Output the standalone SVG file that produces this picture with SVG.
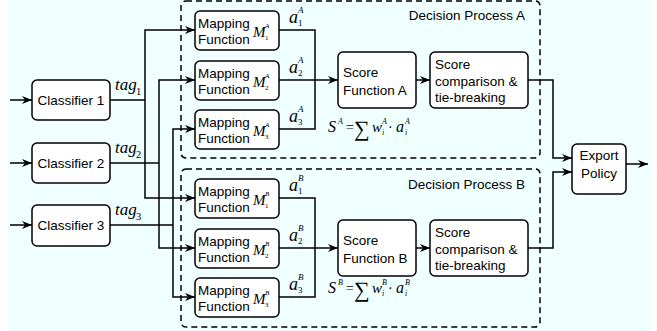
<svg xmlns="http://www.w3.org/2000/svg" width="657" height="331" viewBox="0 0 657 331">
<defs>
<marker id="arr" markerUnits="userSpaceOnUse" markerWidth="10" markerHeight="8" viewBox="0 0 10 8" refX="10" refY="4" orient="auto">
<path d="M0,0 L10,4 L0,8 L3,4 z" fill="#000"/>
</marker>
<style>
.box{fill:#fff;stroke:#000;stroke-width:1.5}
.dash{fill:none;stroke:#000;stroke-width:1.5;stroke-dasharray:6,4}
.ln{fill:none;stroke:#000;stroke-width:1.5}
.ar{fill:none;stroke:#000;stroke-width:1.5;marker-end:url(#arr)}
.t{font-family:"Liberation Sans",Arial,sans-serif;font-size:13.5px;fill:#000}
.c{text-anchor:middle}
.m{font-family:"Liberation Serif","Times New Roman",serif;font-style:italic;fill:#000}
.mr{font-family:"Liberation Serif","Times New Roman",serif;fill:#000}
</style>
</defs>
<rect x="8" y="0" width="644" height="331" fill="#f0ffff"/>

<g id="decisionA">
<rect class="dash" x="181" y="1" width="359" height="157" rx="5"/>
<text class="t" x="525" y="20" text-anchor="end">Decision Process A</text>
</g>
<g id="decisionB">
<rect class="dash" x="181" y="169" width="359" height="158" rx="5"/>
<text class="t" x="525" y="189" text-anchor="end">Decision Process B</text>
</g>

<g id="connectors">
<path class="ar" d="M10,100 H32"/>
<path class="ar" d="M10,163 H32"/>
<path class="ar" d="M10,225 H32"/>
<path class="ln" d="M110,100 H145"/>
<path class="ar" d="M145,100 V30 H195"/>
<path class="ar" d="M145,100 V198 H195"/>
<path class="ln" d="M110,163 H159"/>
<path class="ar" d="M159,163 V80 H195"/>
<path class="ar" d="M159,163 V248 H195"/>
<path class="ln" d="M110,225 H173"/>
<path class="ar" d="M173,225 V129 H195"/>
<path class="ar" d="M173,225 V297 H195"/>
<path class="ln" d="M279,30 H315 V129 H279"/>
<path class="ar" d="M279,80 H338"/>
<path class="ln" d="M279,198 H315 V297 H279"/>
<path class="ar" d="M279,248 H338"/>
<path class="ar" d="M416,80 H430"/>
<path class="ar" d="M416,248 H430"/>
<path class="ar" d="M528,80 H553 V158 H572"/>
<path class="ar" d="M528,248 H553 V172 H572"/>
<path class="ar" d="M626,164 H648"/>
</g>

<g id="classifier1">
<rect class="box" x="32" y="80" width="78" height="40" rx="5"/>
<text class="t c" x="71" y="105">Classifier 1</text>
</g>
<g id="classifier2">
<rect class="box" x="32" y="143" width="78" height="40" rx="5"/>
<text class="t c" x="71" y="168">Classifier 2</text>
</g>
<g id="classifier3">
<rect class="box" x="32" y="205" width="78" height="41" rx="5"/>
<text class="t c" x="71" y="230">Classifier 3</text>
</g>

<g id="tags">
<text class="m" x="115" y="90" font-size="17">tag</text><text class="mr" x="136" y="95" font-size="10.5">1</text>
<text class="m" x="115" y="153" font-size="17">tag</text><text class="mr" x="136" y="158" font-size="10.5">2</text>
<text class="m" x="115" y="215" font-size="17">tag</text><text class="mr" x="136" y="220" font-size="10.5">3</text>
</g>

<g id="mapA1">
<rect class="box" x="195" y="11" width="84" height="39" rx="5"/>
<text class="t" x="198" y="28">Mapping</text><text class="t" x="198" y="44">Function</text>
<text class="m" x="253" y="37" font-size="15">M</text><text class="m" x="265" y="28" font-size="7">A</text><text class="mr" x="265" y="40" font-size="7">1</text>
</g>
<g id="mapA2">
<rect class="box" x="195" y="61" width="84" height="39" rx="5"/>
<text class="t" x="198" y="78">Mapping</text><text class="t" x="198" y="94">Function</text>
<text class="m" x="253" y="87" font-size="15">M</text><text class="m" x="265" y="78" font-size="7">A</text><text class="mr" x="265" y="90" font-size="7">2</text>
</g>
<g id="mapA3">
<rect class="box" x="195" y="110" width="84" height="39" rx="5"/>
<text class="t" x="198" y="127">Mapping</text><text class="t" x="198" y="143">Function</text>
<text class="m" x="253" y="136" font-size="15">M</text><text class="m" x="265" y="127" font-size="7">A</text><text class="mr" x="265" y="139" font-size="7">3</text>
</g>
<g id="mapB1">
<rect class="box" x="195" y="179" width="84" height="39" rx="5"/>
<text class="t" x="198" y="196">Mapping</text><text class="t" x="198" y="212">Function</text>
<text class="m" x="253" y="205" font-size="15">M</text><text class="m" x="265" y="196" font-size="7">B</text><text class="mr" x="265" y="208" font-size="7">1</text>
</g>
<g id="mapB2">
<rect class="box" x="195" y="229" width="84" height="39" rx="5"/>
<text class="t" x="198" y="246">Mapping</text><text class="t" x="198" y="262">Function</text>
<text class="m" x="253" y="255" font-size="15">M</text><text class="m" x="265" y="246" font-size="7">B</text><text class="mr" x="265" y="258" font-size="7">2</text>
</g>
<g id="mapB3">
<rect class="box" x="195" y="278" width="84" height="39" rx="5"/>
<text class="t" x="198" y="295">Mapping</text><text class="t" x="198" y="311">Function</text>
<text class="m" x="253" y="304" font-size="15">M</text><text class="m" x="265" y="295" font-size="7">B</text><text class="mr" x="265" y="307" font-size="7">3</text>
</g>

<g id="alabels">
<text class="m" x="289" y="23" font-size="18">a</text><text class="m" x="298" y="13" font-size="9">A</text><text class="mr" x="298" y="26" font-size="9">1</text>
<text class="m" x="289" y="73" font-size="18">a</text><text class="m" x="298" y="63" font-size="9">A</text><text class="mr" x="298" y="76" font-size="9">2</text>
<text class="m" x="289" y="122" font-size="18">a</text><text class="m" x="298" y="112" font-size="9">A</text><text class="mr" x="298" y="125" font-size="9">3</text>
<text class="m" x="289" y="191" font-size="18">a</text><text class="m" x="298" y="181" font-size="9">B</text><text class="mr" x="298" y="194" font-size="9">1</text>
<text class="m" x="289" y="241" font-size="18">a</text><text class="m" x="298" y="231" font-size="9">B</text><text class="mr" x="298" y="244" font-size="9">2</text>
<text class="m" x="289" y="290" font-size="18">a</text><text class="m" x="298" y="280" font-size="9">B</text><text class="mr" x="298" y="293" font-size="9">3</text>
</g>

<g id="scoreA">
<rect class="box" x="338" y="52" width="78" height="56" rx="5"/>
<text class="t" x="343" y="77">Score</text><text class="t" x="343" y="95">Function A</text>
</g>
<g id="compareA">
<rect class="box" x="430" y="52" width="98" height="56" rx="5"/>
<text class="t" x="435" y="69">Score</text><text class="t" x="435" y="86">comparison &amp;</text><text class="t" x="435" y="102">tie-breaking</text>
</g>
<g id="scoreB">
<rect class="box" x="338" y="220" width="78" height="56" rx="5"/>
<text class="t" x="343" y="245">Score</text><text class="t" x="343" y="263">Function B</text>
</g>
<g id="compareB">
<rect class="box" x="430" y="220" width="98" height="56" rx="5"/>
<text class="t" x="435" y="237">Score</text><text class="t" x="435" y="254">comparison &amp;</text><text class="t" x="435" y="270">tie-breaking</text>
</g>

<g id="formulaA">
<text class="m" x="328" y="132" font-size="16">S</text><text class="m" x="338" y="124" font-size="8">A</text>
<text class="mr" x="346" y="132" font-size="14">=</text>
<text class="mr" x="354" y="136" font-size="22">∑</text>
<text class="m" x="372" y="132" font-size="15">w</text><text class="m" x="382" y="124" font-size="8">A</text><text class="m" x="382" y="135" font-size="8">i</text>
<text class="mr" x="388" y="132" font-size="14">·</text>
<text class="m" x="396" y="132" font-size="16">a</text><text class="m" x="405" y="124" font-size="8">A</text><text class="m" x="405" y="135" font-size="8">i</text>
</g>
<g id="formulaB">
<text class="m" x="328" y="293" font-size="16">S</text><text class="m" x="338" y="285" font-size="8">B</text>
<text class="mr" x="346" y="293" font-size="14">=</text>
<text class="mr" x="354" y="297" font-size="22">∑</text>
<text class="m" x="372" y="293" font-size="15">w</text><text class="m" x="382" y="285" font-size="8">B</text><text class="m" x="382" y="296" font-size="8">i</text>
<text class="mr" x="388" y="293" font-size="14">·</text>
<text class="m" x="396" y="293" font-size="16">a</text><text class="m" x="405" y="285" font-size="8">B</text><text class="m" x="405" y="296" font-size="8">i</text>
</g>

<g id="export">
<rect class="box" x="572" y="144" width="54" height="50" rx="5"/>
<text class="t c" x="599" y="160">Export</text><text class="t c" x="599" y="178">Policy</text>
</g>
</svg>
